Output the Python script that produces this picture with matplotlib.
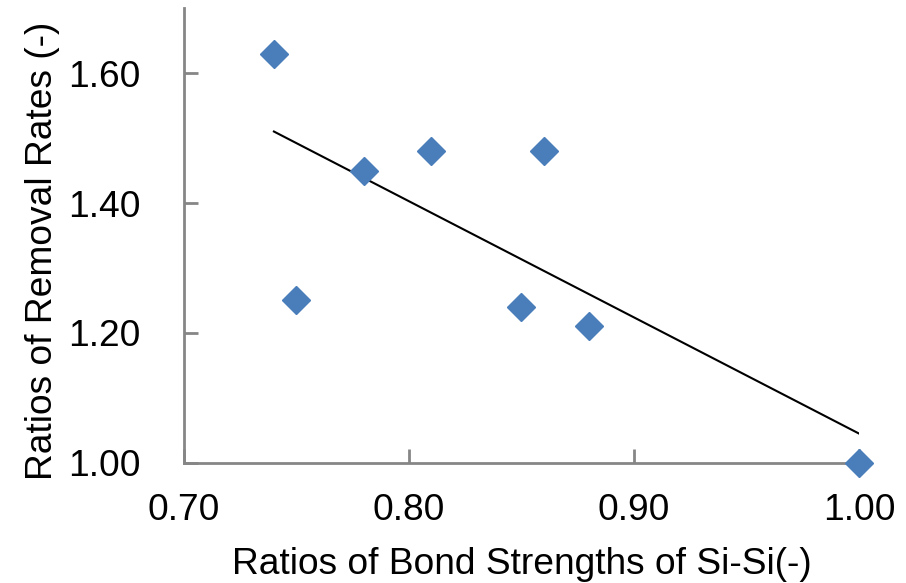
import numpy as np
import matplotlib.pyplot as plt

plt.rcParams['font.family'] = ['Liberation Sans', 'DejaVu Sans']

# ratios
bond_ratio = [0.74, 0.75, 0.78, 0.81, 0.86, 0.85, 0.88, 1.00]
removal_ratio = [1.63, 1.25, 1.45, 1.48, 1.48, 1.24, 1.21, 1.00]
x_ticks = [0.70, 0.80, 0.90, 1.00]
y_ticks = [1.00, 1.20, 1.40, 1.60]

fig = plt.figure(figsize=(9.06, 5.83), dpi=100)
ax = fig.add_axes([0.203, 0.206, 0.745, 0.780])

# linear trendline over the data range
slope, icpt = np.polyfit(bond_ratio, removal_ratio, 1)
xs = np.array([min(bond_ratio), max(bond_ratio)])
ax.plot(xs, slope * xs + icpt, color='black', lw=1.5, zorder=2)

ax.plot(bond_ratio, removal_ratio, 'D', color='#4A7EBB', ms=14,
        mec='#4A7EBB', clip_on=False, zorder=3)

ax.set_xlim(0.70, 1.00)
ax.set_ylim(1.00, 1.70)
ax.set_xticks(x_ticks)
ax.set_yticks(y_ticks)
ax.set_xticklabels(['%.2f' % v for v in x_ticks])
ax.set_yticklabels(['%.2f' % v for v in y_ticks])

for s in ['top', 'right']:
    ax.spines[s].set_visible(False)
for s in ['left', 'bottom']:
    ax.spines[s].set_color('#868686')
    ax.spines[s].set_linewidth(2)
ax.tick_params(direction='in', length=10, width=2, color='#868686',
               labelsize=26.7)
ax.tick_params(axis='x', pad=22)
ax.tick_params(axis='y', pad=31)

ax.set_xlabel('Ratios of Bond Strengths of Si-Si(-)', fontsize=26.7, labelpad=13)
ax.set_ylabel('Ratios of Removal Rates (-)', fontsize=26.7)
ax.yaxis.set_label_coords(-0.183, 0.466)

fig.savefig('out.png')
